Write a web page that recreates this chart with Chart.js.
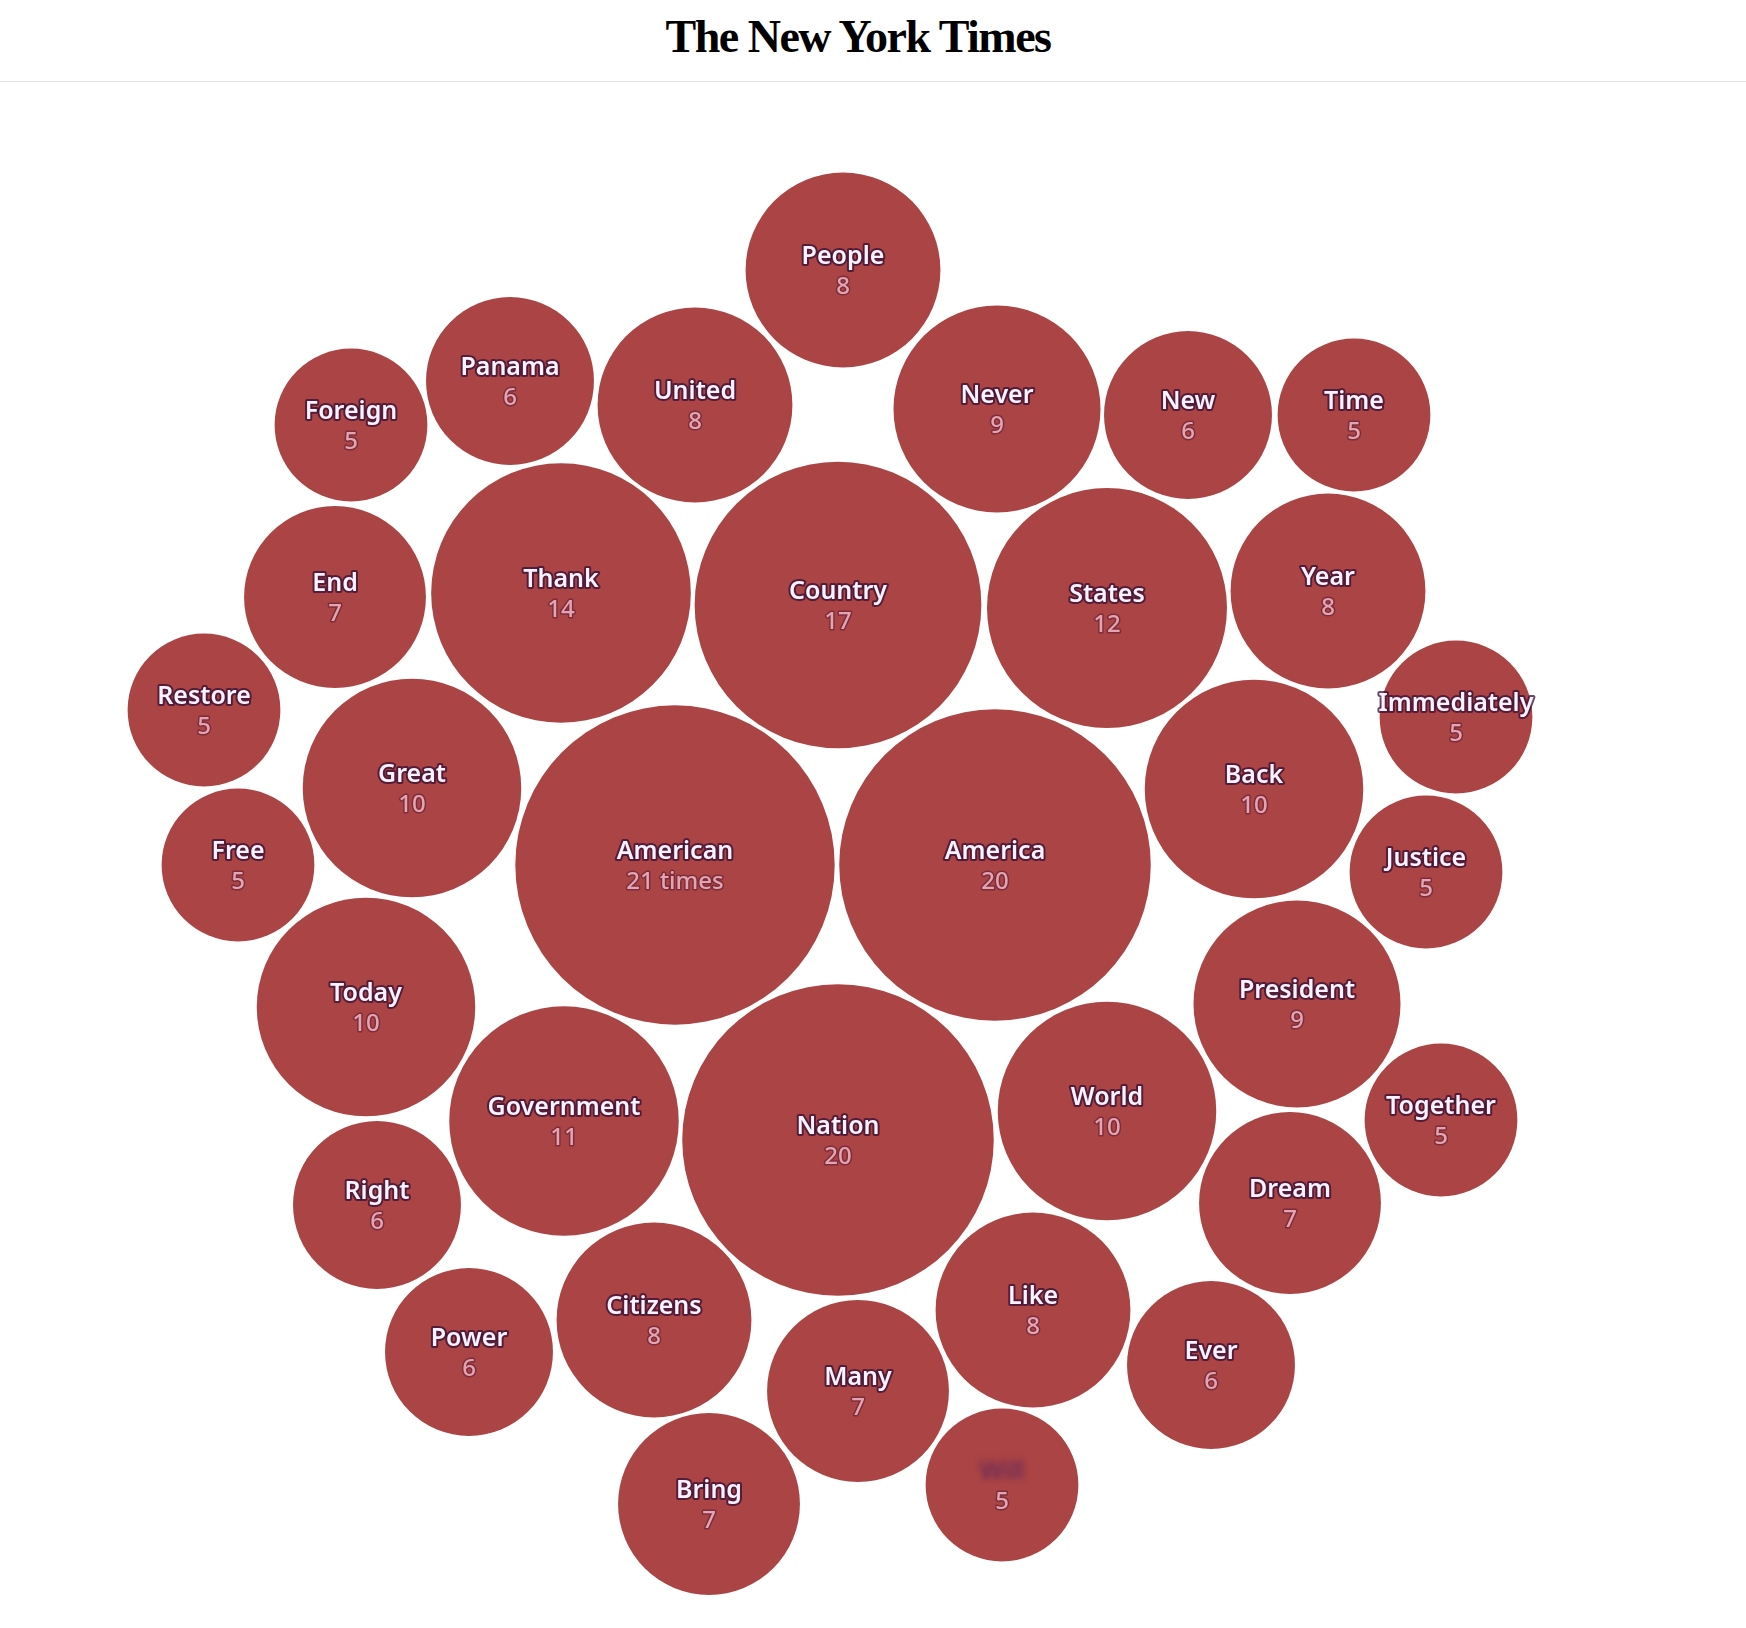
<!DOCTYPE html>
<html>
<head>
<meta charset="utf-8">
<script src="https://cdn.jsdelivr.net/npm/chart.js@4"></script>
<style>
  body { margin: 0; background: #fff; }
  #testata {
    position: absolute; top: 0; left: 0; width: 1746px; height: 81px;
    border-bottom: 1px solid #e2e2e2; z-index: 2; background: #fff;
  }
  #testata span {
    position: absolute; left: 858px; top: 10px; transform: translateX(-50%);
    font-family: "Liberation Serif", "DejaVu Serif", serif; font-weight: bold;
    font-size: 46px; letter-spacing: -1.5px; color: #000; white-space: nowrap;
  }
  #contenitore { position: absolute; top: 0; left: 0; width: 1746px; height: 1628px; }
</style>
</head>
<body>
<div id="testata"><span>The New York Times</span></div>
<div id="contenitore"><canvas id="grafico_parole"></canvas></div>
<script>
// parole e quante volte sono state dette
var parole = ['People', 'Panama', 'Foreign', 'United', 'Never', 'New', 'Time',
  'End', 'Thank', 'Country', 'States', 'Year', 'Restore', 'Immediately',
  'Great', 'Back', 'Free', 'American', 'America', 'Justice', 'Today',
  'President', 'Government', 'Nation', 'World', 'Together', 'Right', 'Dream',
  'Citizens', 'Like', 'Power', 'Ever', 'Many', 'Bring', 'Will'];
var conteggi = [8, 6, 5, 8, 9, 6, 5,
  7, 14, 17, 12, 8, 5, 5,
  10, 10, 5, 21, 20, 5, 10,
  9, 11, 20, 10, 5, 6, 7,
  8, 8, 6, 6, 7, 7, 5];
// posizione delle bolle nello spazio del layout
var pos_x = [843, 510, 351, 695, 997, 1188, 1354,
  335, 561, 838, 1107, 1328, 204, 1456,
  412, 1254, 238, 675, 995, 1426, 366,
  1297, 564, 838, 1107, 1441, 377, 1290,
  654, 1033, 469, 1211, 858, 709, 1002];
var pos_y = [270, 381, 425, 405, 409, 415, 415,
  597, 593, 605, 608, 591, 710, 717,
  788, 789, 865, 865, 865, 872, 1007,
  1004, 1121, 1140, 1111, 1120, 1205, 1203,
  1320, 1310, 1352, 1365, 1391, 1504, 1485];
// parole oscurate nel grafico originale
var parole_sfocate = ['Will'];

var dati_bolle = [];
for (var i = 0; i < parole.length; i++) {
  dati_bolle.push({
    x: pos_x[i],
    y: pos_y[i],
    r: 35.5 * Math.sqrt(conteggi[i]) - 3 // area proporzionale al conteggio
  });
}

var etichette = {
  id: 'etichette',
  afterDatasetsDraw: function(chart) {
    var ctx = chart.ctx;
    var punti = chart.getDatasetMeta(0).data;
    ctx.save();
    ctx.textAlign = 'center';
    ctx.textBaseline = 'middle';
    ctx.lineJoin = 'round';
    for (var i = 0; i < punti.length; i++) {
      var px = punti[i].x;
      var py = punti[i].y;
      // parola
      ctx.font = '600 25px "Noto Sans"';
      if (parole_sfocate.includes(parole[i])) {
        ctx.filter = 'blur(3px)';
        ctx.fillStyle = '#6a2a5a';
        ctx.fillText(parole[i], px, py - 13);
        ctx.filter = 'none';
      } else {
        ctx.lineWidth = 4;
        ctx.strokeStyle = 'rgba(55,15,50,0.75)';
        ctx.strokeText(parole[i], px, py - 13);
        ctx.fillStyle = '#f7f2ff';
        ctx.fillText(parole[i], px, py - 13);
      }
      // conteggio
      var testo = conteggi[i] + (i == 17 ? ' times' : '');
      ctx.font = '500 24px "Noto Sans"';
      ctx.lineWidth = 3;
      ctx.strokeStyle = 'rgba(90,25,50,0.55)';
      ctx.strokeText(testo, px, py + 17);
      ctx.fillStyle = '#e3a5b3';
      ctx.fillText(testo, px, py + 17);
    }
    ctx.restore();
  }
};

var grafico = new Chart(document.getElementById('grafico_parole'), {
  type: 'bubble',
  data: {
    datasets: [{
      data: dati_bolle,
      backgroundColor: '#ab4444',
      borderWidth: 0,
      hoverRadius: 0,
      clip: false
    }]
  },
  options: {
    responsive: true,
    maintainAspectRatio: false,
    animation: false,
    layout: { padding: 0, autoPadding: false },
    plugins: { legend: { display: false }, tooltip: { enabled: false } },
    scales: {
      x: { type: 'linear', min: 0, max: 1746, display: false },
      y: { type: 'linear', min: 0, max: 1628, reverse: true, display: false }
    }
  },
  plugins: [etichette]
});
</script>
</body>
</html>
